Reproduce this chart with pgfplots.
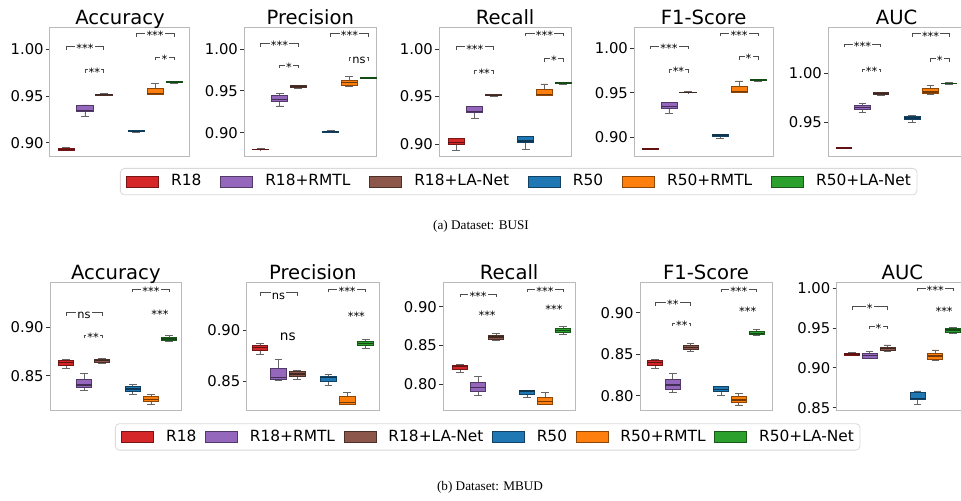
\documentclass[border=0pt]{standalone}
\usepackage{fontspec}
\setmainfont{DejaVu Sans}
\newfontfamily\capfont{Liberation Serif}
\usepackage{pgfplots}
\pgfplotsset{compat=1.18}
\usepgfplotslibrary{statistics}

\definecolor{cA}{HTML}{D62728}
\definecolor{cB}{HTML}{9467BD}
\definecolor{cC}{HTML}{8C564B}
\definecolor{cD}{HTML}{1F77B4}
\definecolor{cE}{HTML}{FF7F0E}
\definecolor{cF}{HTML}{2CA02C}

\newcommand{\sig}{\fontsize{5.7}{6}\selectfont}

% one box: position, lower whisker, lower quartile, median, upper quartile, upper whisker, colour
\newcommand{\bx}[7]{%
  \addplot[draw=#7!55!black, fill=#7, line width=0.4pt,
    boxplot prepared={draw direction=y, draw position=#1, lower whisker=#2, lower quartile=#3,
      median=#4, upper quartile=#5, upper whisker=#6,
      box extend=0.85, whisker extend=0.42,
      every median/.style={draw=#7!45!black, line width=0.7pt},
      every whisker/.style={draw=gray!80!black, line width=0.4pt}}]
    coordinates {};}

% significance bracket: x1, x2, mid, y, text
\newcommand{\brk}[5]{%
  \draw[black!70, line width=0.4pt] ([yshift=-1.6pt]axis cs:#1,#4) -- (axis cs:#1,#4) -- (axis cs:#2,#4) -- ([yshift=-1.6pt]axis cs:#2,#4);
  \node[fill=white, inner sep=0.6pt, font=\sig, anchor=base, yshift=-3.2pt] at (axis cs:#3,#4) {#5};}
\newcommand{\brA}[2]{\brk{1}{3}{2}{#1}{#2}}
\newcommand{\brB}[2]{\brk{2}{3}{2.5}{#1}{#2}}
\newcommand{\brC}[2]{\brk{4.7}{6.7}{5.7}{#1}{#2}}
\newcommand{\brD}[2]{\brk{5.7}{6.7}{6.2}{#1}{#2}}
\newcommand{\txt}[3]{\node[font=\sig, inner sep=0.5pt, anchor=base, yshift=-3.2pt] at (axis cs:#1,#2) {#3};}

\pgfplotsset{
  pn/.style={
    scale only axis, anchor=north west, clip=false,
    axis line style={draw=gray!55, line width=0.5pt},
    xtick=\empty, ytick pos=left, tick align=outside,
    major tick length=2pt,
    tick style={draw=black!80, line width=0.4pt},
    /pgf/number format/assume math mode=true,
    yticklabel style={font=\fontsize{7.4}{8}\selectfont, inner sep=1pt,
      /pgf/number format/.cd, fixed, fixed zerofill, precision=2},
    every axis title/.style={font=\fontsize{9.8}{11}\selectfont, at={(0.5,1)}, anchor=base,
      yshift=1.6pt, inner sep=0pt},
  },
  leg/.style={
    legend columns=6,
    legend style={draw=gray!30, rounded corners=2pt, fill=white,
      font=\fontsize{7.7}{9}\selectfont, inner xsep=3pt, inner ysep=3pt,
      nodes={inner sep=0pt},
      /tikz/every odd column/.append style={column sep=6pt},
      /tikz/every even column/.append style={column sep=#1}},
    legend image code/.code={\draw[##1, sharp corners, line width=0.4pt] (0pt,-2.75pt) rectangle (16pt,2.75pt);},
  },
}

\newcommand{\legitems}{%
  \addlegendimage{fill=cA, draw=cA!55!black}\addlegendentry{R18}
  \addlegendimage{fill=cB, draw=cB!55!black}\addlegendentry{R18+RMTL}
  \addlegendimage{fill=cC, draw=cC!55!black}\addlegendentry{R18+LA-Net}
  \addlegendimage{fill=cD, draw=cD!55!black}\addlegendentry{R50}
  \addlegendimage{fill=cE, draw=cE!55!black}\addlegendentry{R50+RMTL}
  \addlegendimage{fill=cF, draw=cF!55!black}\addlegendentry{R50+LA-Net}}

\begin{document}
\begin{tikzpicture}
\useasboundingbox (0,0) rectangle (480.5pt,250pt);

% ---------------- (a) BUSI ----------------
\begin{axis}[pn, leg=9.5pt, at={(25pt,236.35pt)}, width=70pt, height=64.35pt,
  xmin=0.156, xmax=7.544, ymin=0.8858, ymax=1.0236, ytick={0.90,0.95,1.00},
  title={Accuracy},
  legend style={at={(0.5,-0.093)}, anchor=north west}]
\legitems
\bx{1}{0.8915}{0.8922}{0.8930}{0.8938}{0.8945}{cA}
\bx{2}{0.9280}{0.9335}{0.9345}{0.9402}{0.9405}{cB}
\bx{3}{0.9505}{0.9512}{0.9517}{0.9522}{0.9527}{cC}
\bx{4.7}{0.9110}{0.9117}{0.9122}{0.9128}{0.9133}{cD}
\bx{5.7}{0.9515}{0.9518}{0.9525}{0.9582}{0.9637}{cE}
\bx{6.7}{0.9638}{0.9645}{0.9650}{0.9655}{0.9660}{cF}
\brA{1.0032}{***}
\brB{0.9780}{**}
\brC{1.0170}{***}
\brD{0.9915}{*}
\end{axis}

\begin{axis}[pn, at={(122.15pt,236.35pt)}, width=66pt, height=64.35pt,
  xmin=0.135, xmax=7.12, ymin=0.8721, ymax=1.026, ytick={0.90,0.95,1.00},
  title={Precision}]
\bx{1}{0.8795}{0.8798}{0.8801}{0.8804}{0.8807}{cA}
\bx{2}{0.9320}{0.9371}{0.9395}{0.9443}{0.9467}{cB}
\bx{3}{0.9535}{0.9547}{0.9553}{0.9562}{0.9567}{cC}
\bx{4.7}{0.9005}{0.9008}{0.9012}{0.9016}{0.9024}{cD}
\bx{5.7}{0.9550}{0.9570}{0.9600}{0.9630}{0.9670}{cE}
\bx{6.7}{0.9645}{0.9650}{0.9654}{0.9658}{0.9665}{cF}
\brA{1.0068}{***}
\brB{0.9810}{*}
\brC{1.0188}{***}
\brD{0.9900}{ns}
\end{axis}

\begin{axis}[pn, at={(219.65pt,236.35pt)}, width=65.85pt, height=64.35pt,
  xmin=0.113, xmax=7.11, ymin=0.8874, ymax=1.0228, ytick={0.90,0.95,1.00},
  title={Recall}]
\bx{1}{0.8937}{0.8997}{0.9015}{0.9060}{0.9060}{cA}
\bx{2}{0.9270}{0.9330}{0.9340}{0.9393}{0.9393}{cB}
\bx{3}{0.9503}{0.9508}{0.9513}{0.9518}{0.9523}{cC}
\bx{4.7}{0.8947}{0.9014}{0.9030}{0.9077}{0.9077}{cD}
\bx{5.7}{0.9508}{0.9508}{0.9520}{0.9575}{0.9632}{cE}
\bx{6.7}{0.9627}{0.9633}{0.9640}{0.9646}{0.9650}{cF}
\brA{1.0024}{***}
\brB{0.9770}{**}
\brC{1.0165}{***}
\brD{0.9900}{*}
\end{axis}

\begin{axis}[pn, at={(317.15pt,236.35pt)}, width=69.35pt, height=64.35pt,
  xmin=0.171, xmax=7.49, ymin=0.879, ymax=1.0236, ytick={0.90,0.95,1.00},
  title={F1-Score}]
\bx{1}{0.8862}{0.8865}{0.8869}{0.8873}{0.8876}{cA}
\bx{2}{0.9270}{0.9326}{0.9345}{0.9393}{0.9393}{cB}
\bx{3}{0.9500}{0.9503}{0.9506}{0.9510}{0.9517}{cC}
\bx{4.7}{0.8989}{0.9011}{0.9026}{0.9037}{0.9037}{cD}
\bx{5.7}{0.9506}{0.9506}{0.9515}{0.9577}{0.9633}{cE}
\bx{6.7}{0.9633}{0.9638}{0.9644}{0.9650}{0.9655}{cF}
\brA{1.0026}{***}
\brB{0.9764}{**}
\brC{1.0169}{***}
\brD{0.9909}{*}
\end{axis}

\begin{axis}[pn, at={(414.15pt,236.35pt)}, width=68.35pt, height=64.35pt,
  xmin=0.148, xmax=7.57, ymin=0.9159, ymax=1.0469, ytick={0.95,1.00},
  title={AUC}]
\bx{1}{0.9232}{0.9237}{0.9241}{0.9245}{0.9249}{cA}
\bx{2}{0.9605}{0.9633}{0.9650}{0.9676}{0.9694}{cB}
\bx{3}{0.9780}{0.9788}{0.9796}{0.9802}{0.9810}{cC}
\bx{4.7}{0.9503}{0.9531}{0.9545}{0.9567}{0.9570}{cD}
\bx{5.7}{0.9790}{0.9799}{0.9810}{0.9843}{0.9873}{cE}
\bx{6.7}{0.9888}{0.9893}{0.9898}{0.9902}{0.9906}{cF}
\brA{1.0299}{***}
\brB{1.0044}{**}
\brC{1.0402}{***}
\brD{1.0153}{*}
\end{axis}

\node[font=\capfont\fontsize{6.6}{8}\selectfont] at (240.5pt,137pt) {(a) Dataset: BUSI};

% ---------------- (b) MBUD ----------------
\begin{axis}[pn, leg=4.3pt, at={(25pt,108.85pt)}, width=65.85pt, height=63.85pt,
  xmin=0.115, xmax=7.40, ymin=0.8146, ymax=0.9465, ytick={0.85,0.90},
  title={Accuracy},
  legend style={at={(0.4935,-0.104)}, anchor=north west}]
\legitems
\bx{1}{0.8576}{0.8610}{0.8634}{0.8655}{0.8669}{cA}
\bx{2}{0.8352}{0.8376}{0.8404}{0.8462}{0.8524}{cB}
\bx{3}{0.8630}{0.8641}{0.8655}{0.8672}{0.8680}{cC}
\bx{4.7}{0.8307}{0.8342}{0.8365}{0.8393}{0.8410}{cD}
\bx{5.7}{0.8204}{0.8231}{0.8255}{0.8290}{0.8310}{cE}
\bx{6.7}{0.8858}{0.8865}{0.8880}{0.8893}{0.8917}{cF}
\brA{0.9154}{ns}
\brB{0.8920}{**}
\brC{0.9395}{***}
\txt{6.2}{0.9154}{***}
\end{axis}

\begin{axis}[pn, at={(123.35pt,108.85pt)}, width=66.15pt, height=63.85pt,
  xmin=0.283, xmax=7.42, ymin=0.8216, ymax=0.9468, ytick={0.85,0.90},
  title={Precision}]
\bx{1}{0.8762}{0.8804}{0.8830}{0.8853}{0.8870}{cA}
\bx{2}{0.8510}{0.8520}{0.8536}{0.8624}{0.8713}{cB}
\bx{3}{0.8516}{0.8543}{0.8569}{0.8592}{0.8608}{cC}
\bx{4.7}{0.8461}{0.8500}{0.8533}{0.8549}{0.8562}{cD}
\bx{5.7}{0.8268}{0.8274}{0.8287}{0.8346}{0.8392}{cE}
\bx{6.7}{0.8817}{0.8847}{0.8866}{0.8886}{0.8909}{cF}
\brA{0.9367}{ns}
\node[font=\fontsize{6.8}{7}\selectfont, inner sep=0.5pt] at (axis cs:2.5,0.8935) {ns};
\brC{0.9403}{***}
\txt{6.2}{0.9154}{***}
\end{axis}

\begin{axis}[pn, at={(221.65pt,108.85pt)}, width=65.85pt, height=63.85pt,
  xmin=0.076, xmax=7.36, ymin=0.767, ymax=0.9313, ytick={0.80,0.85,0.90},
  title={Recall}]
\bx{1}{0.8154}{0.8197}{0.8227}{0.8249}{0.8257}{cA}
\bx{2}{0.7858}{0.7910}{0.7961}{0.8021}{0.8099}{cB}
\bx{3}{0.8562}{0.8579}{0.8609}{0.8635}{0.8656}{cC}
\bx{4.7}{0.7828}{0.7871}{0.7914}{0.7927}{0.7927}{cD}
\bx{5.7}{0.7743}{0.7747}{0.7777}{0.7833}{0.7893}{cE}
\bx{6.7}{0.8644}{0.8665}{0.8695}{0.8721}{0.8742}{cF}
\brA{0.9163}{***}
\txt{2.5}{0.8914}{***}
\brC{0.9227}{***}
\txt{6.2}{0.8991}{***}
\end{axis}

\begin{axis}[pn, at={(320pt,108.85pt)}, width=66pt, height=63.85pt,
  xmin=0.159, xmax=7.56, ymin=0.7827, ymax=0.9365, ytick={0.80,0.85,0.90},
  title={F1-Score}]
\bx{1}{0.8329}{0.8370}{0.8398}{0.8426}{0.8434}{cA}
\bx{2}{0.8036}{0.8080}{0.8129}{0.8197}{0.8269}{cB}
\bx{3}{0.8534}{0.8558}{0.8582}{0.8610}{0.8630}{cC}
\bx{4.7}{0.8000}{0.8048}{0.8076}{0.8108}{0.8116}{cD}
\bx{5.7}{0.7888}{0.7920}{0.7948}{0.7988}{0.8028}{cE}
\bx{6.7}{0.8727}{0.8735}{0.8751}{0.8775}{0.8799}{cF}
\brA{0.9124}{**}
\brB{0.8876}{**}
\brC{0.9285}{***}
\txt{6.2}{0.9044}{***}
\end{axis}

\begin{axis}[pn, at={(418.35pt,108.85pt)}, width=65.65pt, height=63.85pt,
  xmin=0.137, xmax=7.55, ymin=0.8471, ymax=1.0075, ytick={0.85,0.90,0.95,1.00},
  title={AUC}]
\bx{1}{0.9158}{0.9162}{0.9175}{0.9187}{0.9191}{cA}
\bx{2}{0.9120}{0.9124}{0.9154}{0.9179}{0.9212}{cB}
\bx{3}{0.9208}{0.9221}{0.9242}{0.9263}{0.9288}{cC}
\bx{4.7}{0.8538}{0.8609}{0.8617}{0.8693}{0.8710}{cD}
\bx{5.7}{0.9099}{0.9112}{0.9150}{0.9179}{0.9225}{cE}
\bx{6.7}{0.9434}{0.9451}{0.9476}{0.9493}{0.9510}{cF}
\brA{0.9770}{*}
\brB{0.9527}{*}
\brC{1.0000}{***}
\txt{6.2}{0.9740}{***}
\end{axis}

\node[font=\capfont\fontsize{6.6}{8}\selectfont] at (245pt,6.5pt) {(b) Dataset: MBUD};
\end{tikzpicture}
\end{document}
